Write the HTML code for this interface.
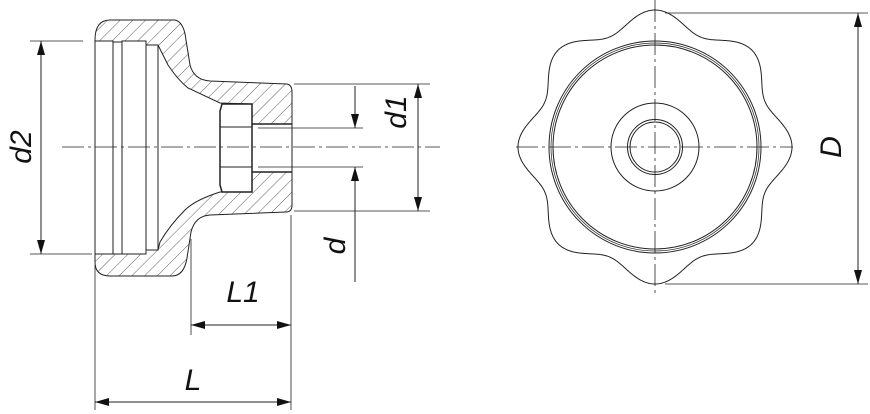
<!DOCTYPE html>
<html><head><meta charset="utf-8"><style>
html,body{margin:0;padding:0;background:#fff;}
svg{display:block}
text{font-family:"Liberation Sans",sans-serif;font-style:italic;font-size:30px;fill:#111}
</style></head><body>
<svg id="s" width="870" height="414" viewBox="0 0 870 414" xmlns="http://www.w3.org/2000/svg">
<defs>
<pattern id="h" patternUnits="userSpaceOnUse" width="9" height="9" patternTransform="rotate(45)">
<line x1="0" y1="0" x2="0" y2="9" stroke="#333" stroke-width="0.8"/>
</pattern>
<marker id="a" viewBox="0 0 14 8" refX="14" refY="4" markerWidth="14" markerHeight="8" markerUnits="userSpaceOnUse" orient="auto-start-reverse">
<path d="M0,0 L14,4 L0,8 Z" fill="#111"/>
</marker>
</defs>
<g stroke="#222" stroke-width="1" fill="none">
<path fill="url(#h)" fill-rule="evenodd" d="M110,20 L175,20 Q184,22 186,40 L190,65 Q194,80 210,81 L287,84 Q292,85 292,92 L292,205 Q292,212 286,212 L210,215 Q195,216 191,232 L187,258 Q184,276 172,276 L110,276 Q95,276 95,262 L95,40 Q95,20 110,20 Z
M95,41 L113,41 L113,42 L122,42 L122,41 L146,41 L146,45 L158,45 L168,65 Q178,80 188,88 L220,103 L252,104 L252,124 L292,124 L292,172 L252,172 L252,192 L220,192 Q195,200 185,210 Q170,225 160,242 L158,250 L146,250 L146,254 L95,254 Z"/>
<line x1="113" y1="42" x2="113" y2="254"/>
<line x1="122" y1="42" x2="122" y2="254"/>
<line x1="146" y1="41" x2="146" y2="254"/>
<line x1="158" y1="45" x2="158" y2="250"/>
<path d="M222,104 L252,104 L252,192 L222,192 L220,185 L220,111 Z" fill="#fff" stroke-width="1.5"/>
<line x1="220" y1="127" x2="252" y2="127"/><line x1="220" y1="167" x2="252" y2="167"/>
<line x1="252" y1="124" x2="292" y2="124" stroke-width="1.4"/><line x1="252" y1="172" x2="292" y2="172" stroke-width="1.4"/>
<line x1="62" y1="147" x2="440" y2="147" stroke-dasharray="22,4,3,4" stroke-width="0.8"/>
<line x1="258" y1="128" x2="363" y2="128" stroke-width="0.8"/>
<line x1="258" y1="167" x2="363" y2="167" stroke-width="0.8"/>
<line x1="30" y1="41" x2="83" y2="41" stroke-width="0.8"/>
<line x1="30" y1="254" x2="92" y2="254" stroke-width="0.8"/>
<line x1="41" y1="41" x2="41" y2="254" marker-start="url(#a)" marker-end="url(#a)"/>
<line x1="294" y1="84" x2="430" y2="84" stroke-width="0.8"/>
<line x1="294" y1="211" x2="430" y2="211" stroke-width="0.8"/>
<line x1="418" y1="84" x2="418" y2="211" marker-start="url(#a)" marker-end="url(#a)"/>
<line x1="355" y1="86" x2="355" y2="128" marker-end="url(#a)"/>
<line x1="355" y1="282" x2="355" y2="167" marker-end="url(#a)"/>
<line x1="191" y1="239" x2="191" y2="335" stroke-width="0.8"/>
<line x1="291" y1="215" x2="291" y2="410" stroke-width="0.8"/>
<line x1="191" y1="325" x2="291" y2="325" marker-start="url(#a)" marker-end="url(#a)"/>
<line x1="95" y1="265" x2="95" y2="410" stroke-width="0.8"/>
<line x1="95" y1="402" x2="291" y2="402" marker-start="url(#a)" marker-end="url(#a)"/>
<path id="star"/>
<circle cx="655" cy="147" r="106"/>
<circle cx="655" cy="147" r="104" stroke-width="0.7"/>
<circle cx="655" cy="147" r="102"/>
<circle cx="655" cy="147" r="44"/>
<circle cx="655" cy="147" r="27.5"/>
<circle cx="655" cy="147" r="25"/>
<line x1="655" y1="0" x2="655" y2="296" stroke-dasharray="22,4,3,4" stroke-width="0.8"/>
<line x1="516" y1="147" x2="793" y2="147" stroke-dasharray="22,4,3,4" stroke-width="0.8"/>
<line x1="665" y1="13" x2="868" y2="13" stroke-width="0.8"/>
<line x1="665" y1="284" x2="868" y2="284" stroke-width="0.8"/>
<line x1="858" y1="13" x2="858" y2="284" marker-start="url(#a)" marker-end="url(#a)"/>
</g>
<text transform="translate(31,147) rotate(-90)" text-anchor="middle">d2</text>
<text transform="translate(406,112) rotate(-90)" text-anchor="middle">d1</text>
<text transform="translate(345,246) rotate(-90)" text-anchor="middle">d</text>
<text x="243" y="302" text-anchor="middle">L1</text>
<text x="193" y="390" text-anchor="middle">L</text>
<text transform="translate(841,147) rotate(-90)" text-anchor="middle">D</text>
</svg>
<script>
var d="",cx=655,cy=147;
for(var i=0;i<=720;i++){var t=i/720*2*Math.PI;var r=128+9*Math.cos(8*t);
var x=cx+r*Math.cos(t),y=cy+r*Math.sin(t);d+=(i?"L":"M")+x.toFixed(2)+","+y.toFixed(2);}
document.getElementById("star").setAttribute("d",d+"Z");
</script>
</body></html>
